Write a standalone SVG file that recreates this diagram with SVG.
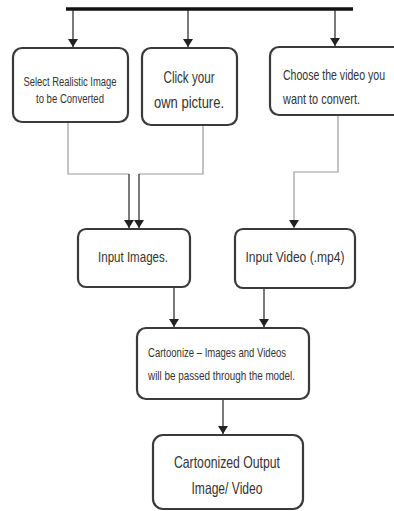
<svg xmlns="http://www.w3.org/2000/svg" width="394" height="511" viewBox="0 0 394 511">
<defs>
<marker id="arr" viewBox="0 0 8 10" refX="8" refY="5" markerWidth="8" markerHeight="10" markerUnits="userSpaceOnUse" orient="auto">
<path d="M0,0 L8,5 L0,10 Z" fill="#222"/>
</marker>
<style>
.box{fill:#fff;stroke:#3a3a3a;stroke-width:2.2}
.t{font-family:"Liberation Sans",Arial,sans-serif;fill:#333}
.c{fill:none;stroke:#222;stroke-width:1.2}
.g{fill:none;stroke:#9a9a9a;stroke-width:1.2}
.bar{stroke:#111;stroke-width:3.5}
</style>
</defs>
<rect width="394" height="511" fill="#fff"/>
<g id="connectors">
<line class="bar" x1="66" y1="9" x2="353" y2="9"/>
<path class="c" d="M73,10 V47" marker-end="url(#arr)"/>
<path class="c" d="M188,10 V47" marker-end="url(#arr)"/>
<path class="c" d="M335,10 V46" marker-end="url(#arr)"/>
<path class="g" d="M68,122 V174 H129"/>
<path class="c" d="M129,174 V228" marker-end="url(#arr)"/>
<path class="g" d="M203,125 V174 H139"/>
<path class="c" d="M139,174 V228" marker-end="url(#arr)"/>
<path class="g" d="M338,116 V172 H294 V180"/>
<path class="g" d="M294,180 V228" marker-end="url(#arr)"/>
<path class="c" d="M174,288 V327" marker-end="url(#arr)"/>
<path class="c" d="M264,288 V327" marker-end="url(#arr)"/>
<path class="c" d="M223,400 V434" marker-end="url(#arr)"/>
</g>
<g id="select">
<rect class="box" x="13" y="48" width="115" height="74" rx="9"/>
<text class="t" x="70" y="86" font-size="13" text-anchor="middle" textLength="93" lengthAdjust="spacingAndGlyphs">Select Realistic Image</text>
<text class="t" x="70" y="103" font-size="13" text-anchor="middle" textLength="68" lengthAdjust="spacingAndGlyphs">to be Converted</text>
</g>
<g id="click">
<rect class="box" x="142" y="48" width="95" height="77" rx="9"/>
<text class="t" x="189" y="83" font-size="16" text-anchor="middle" textLength="51" lengthAdjust="spacingAndGlyphs">Click your</text>
<text class="t" x="189" y="108" font-size="16" text-anchor="middle" textLength="70" lengthAdjust="spacingAndGlyphs">own picture.</text>
</g>
<g id="choose">
<rect class="box" x="270" y="47" width="140" height="68" rx="9"/>
<text class="t" x="283" y="80" font-size="14.5" textLength="102" lengthAdjust="spacingAndGlyphs">Choose the video you</text>
<text class="t" x="283" y="104" font-size="14.5" textLength="77" lengthAdjust="spacingAndGlyphs">want to convert.</text>
</g>
<g id="inputImages">
<rect class="box" x="78" y="229" width="112" height="58" rx="8"/>
<text class="t" x="133" y="262" font-size="15" text-anchor="middle" textLength="70" lengthAdjust="spacingAndGlyphs">Input Images.</text>
</g>
<g id="inputVideo">
<rect class="box" x="235" y="229" width="120" height="59" rx="8"/>
<text class="t" x="295" y="262" font-size="15" text-anchor="middle" textLength="99" lengthAdjust="spacingAndGlyphs">Input Video (.mp4)</text>
</g>
<g id="cartoonize">
<rect class="box" x="137" y="328" width="172" height="71" rx="9"/>
<text class="t" x="148" y="357" font-size="13" textLength="138" lengthAdjust="spacingAndGlyphs">Cartoonize – Images and Videos</text>
<text class="t" x="148" y="380" font-size="13" textLength="147" lengthAdjust="spacingAndGlyphs">will be passed through the model.</text>
</g>
<g id="output">
<rect class="box" x="153" y="435" width="150" height="74" rx="10"/>
<text class="t" x="227" y="468" font-size="16.5" text-anchor="middle" textLength="106" lengthAdjust="spacingAndGlyphs">Cartoonized Output</text>
<text class="t" x="227" y="494" font-size="16.5" text-anchor="middle" textLength="71" lengthAdjust="spacingAndGlyphs">Image/ Video</text>
</g>
</svg>
